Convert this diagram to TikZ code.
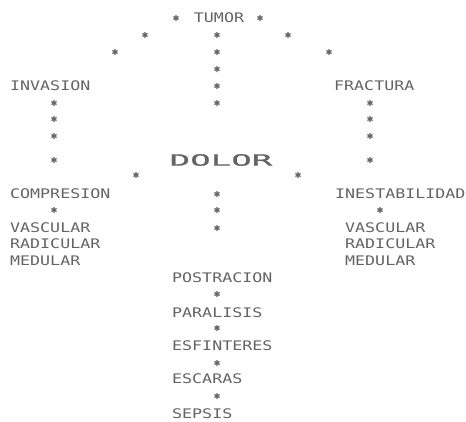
\documentclass[tikz,border=0pt]{standalone}
\usepackage{fontspec}
\newfontfamily\dotfont[FakeStretch=1.26]{DejaVu Sans Mono}
\newfontfamily\dotwide[FakeStretch=2.2,FakeBold=1.2]{DejaVu Sans Mono}
\definecolor{ink}{RGB}{100,100,100}
\begin{document}
\begin{tikzpicture}[x=1pt,y=-1pt,
  word/.style={inner sep=0pt, anchor=west, text=ink, font=\dotfont\fontsize{13.2}{14}\selectfont},
  cword/.style={word, anchor=center},
  bigword/.style={inner sep=0pt, anchor=center, text=ink, font=\dotwide\fontsize{15.5}{16}\selectfont},
  ast/.style={inner sep=0pt, minimum size=7pt, path picture={
      \draw[ink, line width=1.3pt]
        ([yshift=3pt]path picture bounding box.center) -- ([yshift=-3pt]path picture bounding box.center)
        ([xshift=-2.6pt,yshift=1.5pt]path picture bounding box.center) -- ([xshift=2.6pt,yshift=-1.5pt]path picture bounding box.center)
        ([xshift=-2.6pt,yshift=-1.5pt]path picture bounding box.center) -- ([xshift=2.6pt,yshift=1.5pt]path picture bounding box.center);
  }}]
\useasboundingbox[fill=white] (0,0) rectangle (466,421);
% words
\node[cword] (tumor) at (219,18) {TUMOR};
\node[word] (invasion) at (10,86) {INVASION};
\node[word] (fractura) at (334,86) {FRACTURA};
\node[bigword] (dolor) at (221,160) {DOLOR};
\node[word] (compresion) at (10,194) {COMPRESION};
\node[word] (inestab) at (335,194) {INESTABILIDAD};
\node[word] (vascL) at (10,228) {VASCULAR};
\node[word] (radL) at (10,244) {RADICULAR};
\node[word] (medL) at (10,261) {MEDULAR};
\node[word] (vascR) at (345,228) {VASCULAR};
\node[word] (radR) at (345,244) {RADICULAR};
\node[word] (medR) at (345,261) {MEDULAR};
\node[word] (postracion) at (172,278) {POSTRACION};
\node[word] (paralisis) at (172,313) {PARALISIS};
\node[word] (esfinteres) at (172,346) {ESFINTERES};
\node[word] (escaras) at (172,379) {ESCARAS};
\node[word] (sepsis) at (172,414) {SEPSIS};
% star chains
\node[ast] (a1) at (176,18) {};
\node[ast] (a2) at (260,18) {};
\node[ast] (l1) at (145,35) {};
\node[ast] (l2) at (115,52) {};
\node[ast] (r1) at (288,35) {};
\node[ast] (r2) at (329,52) {};
\node[ast] (c1) at (217,35) {};
\node[ast] (c2) at (217,52) {};
\node[ast] (c3) at (217,69) {};
\node[ast] (c4) at (217,86) {};
\node[ast] (c5) at (217,103) {};
\node[ast] (il1) at (54,103) {};
\node[ast] (il2) at (54,119) {};
\node[ast] (il3) at (54,136) {};
\node[ast] (il4) at (54,160) {};
\node[ast] (fr1) at (370,103) {};
\node[ast] (fr2) at (370,119) {};
\node[ast] (fr3) at (370,136) {};
\node[ast] (fr4) at (370,160) {};
\node[ast] (dl) at (136,175) {};
\node[ast] (dr) at (298,175) {};
\node[ast] (d1) at (217,194) {};
\node[ast] (d2) at (217,210) {};
\node[ast] (d3) at (217,228) {};
\node[ast] (cp) at (54,210) {};
\node[ast] (ie) at (380,210) {};
\node[ast] (p1) at (217,294) {};
\node[ast] (p2) at (217,328) {};
\node[ast] (p3) at (217,363) {};
\node[ast] (p4) at (217,396) {};
\end{tikzpicture}
\end{document}
